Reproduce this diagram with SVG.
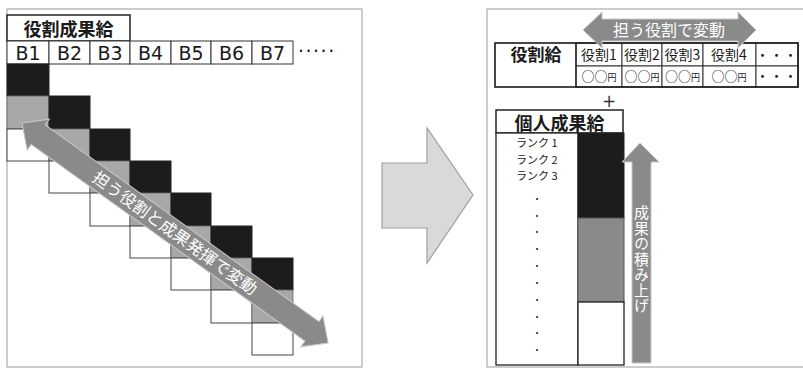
<svg xmlns="http://www.w3.org/2000/svg" width="803" height="368" viewBox="0 0 803 368">
<style>
.frame{fill:none;stroke:#9a9a9a;stroke-width:1}
.box{fill:#fff;stroke:#222;stroke-width:1.5}
.cell{fill:#fff;stroke:#333;stroke-width:1}
.blk{fill:#1c1c1c;stroke:#222;stroke-width:1}
.gry{fill:#a8a8a8;stroke:#666;stroke-width:0.8}
.wht{fill:#fff;stroke:#444;stroke-width:1}
.jp{font-family:"Noto Sans CJK JP","Noto Sans",sans-serif;fill:#1a1a1a}
.b{font-weight:bold}
.lat{font-family:"DejaVu Sans",sans-serif;fill:#1a1a1a;font-size:19px}
.arr{fill:#8a8a8a;stroke:#c8c8c8;stroke-width:1}
.wt{fill:#fff}
.mid{text-anchor:middle}
</style>

<!-- Left panel -->
<g id="left-panel">
  <rect class="frame" x="7" y="9" width="355" height="358"/>
  <g id="title-left">
    <rect class="box" x="7" y="15" width="123" height="26"/>
    <text class="jp b mid" x="68.5" y="36" font-size="18">役割成果給</text>
  </g>
  <g id="b-row">
    <rect class="cell" x="7" y="41" width="42" height="23"/>
    <rect class="cell" x="49" y="41" width="41" height="23"/>
    <rect class="cell" x="90" y="41" width="40" height="23"/>
    <rect class="cell" x="130" y="41" width="41" height="23"/>
    <rect class="cell" x="171" y="41" width="40" height="23"/>
    <rect class="cell" x="211" y="41" width="41" height="23"/>
    <rect class="cell" x="252" y="41" width="41" height="23"/>
    <text class="lat mid" x="28" y="60">B1</text>
    <text class="lat mid" x="69.5" y="60">B2</text>
    <text class="lat mid" x="110" y="60">B3</text>
    <text class="lat mid" x="150.5" y="60">B4</text>
    <text class="lat mid" x="191" y="60">B5</text>
    <text class="lat mid" x="231.5" y="60">B6</text>
    <text class="lat mid" x="272.5" y="60">B7</text>
    <text class="lat" x="298" y="58" font-size="14" letter-spacing="1.5">·····</text>
  </g>
  <g id="steps">
    <rect class="blk" x="7" y="64" width="42" height="32"/>
    <rect class="gry" x="7" y="96" width="42" height="33"/>
    <rect class="wht" x="7" y="129" width="42" height="32"/>
    <rect class="blk" x="49" y="96" width="41" height="33"/>
    <rect class="gry" x="49" y="129" width="41" height="32"/>
    <rect class="wht" x="49" y="161" width="41" height="32"/>
    <rect class="blk" x="90" y="129" width="40" height="32"/>
    <rect class="gry" x="90" y="161" width="40" height="32"/>
    <rect class="wht" x="90" y="193" width="40" height="33"/>
    <rect class="blk" x="130" y="161" width="41" height="32"/>
    <rect class="gry" x="130" y="193" width="41" height="33"/>
    <rect class="wht" x="130" y="226" width="41" height="32"/>
    <rect class="blk" x="171" y="193" width="40" height="33"/>
    <rect class="gry" x="171" y="226" width="40" height="32"/>
    <rect class="wht" x="171" y="258" width="40" height="32"/>
    <rect class="blk" x="211" y="226" width="41" height="32"/>
    <rect class="gry" x="211" y="258" width="41" height="32"/>
    <rect class="wht" x="211" y="290" width="41" height="33"/>
    <rect class="blk" x="252" y="258" width="41" height="32"/>
    <rect class="gry" x="252" y="290" width="41" height="33"/>
    <rect class="wht" x="252" y="323" width="41" height="32"/>
  </g>
</g>

<!-- Right panel -->
<g id="right-panel">
  <rect class="frame" x="487" y="9" width="330" height="358"/>
  <g id="role-table">
    <rect class="cell" x="576" y="43" width="46" height="23"/>
    <rect class="cell" x="622" y="43" width="40" height="23"/>
    <rect class="cell" x="662" y="43" width="41" height="23"/>
    <rect class="cell" x="703" y="43" width="53" height="23"/>
    <rect class="cell" x="756" y="43" width="42" height="23"/>
    <rect class="cell" x="576" y="66" width="46" height="21"/>
    <rect class="cell" x="622" y="66" width="40" height="21"/>
    <rect class="cell" x="662" y="66" width="41" height="21"/>
    <rect class="cell" x="703" y="66" width="53" height="21"/>
    <rect class="cell" x="756" y="66" width="42" height="21"/>
    <rect x="495" y="43" width="303" height="44" fill="none" stroke="#1a1a1a" stroke-width="1.6"/>
    <line x1="576" y1="43" x2="576" y2="87" stroke="#1a1a1a" stroke-width="1.3"/>
    <text class="jp b mid" x="536" y="61" font-size="17">役割給</text>
    <text class="jp mid" x="599" y="60" font-size="14">役割1</text>
    <text class="jp mid" x="642" y="60" font-size="14">役割2</text>
    <text class="jp mid" x="682.5" y="60" font-size="14">役割3</text>
    <text class="jp mid" x="729" y="60" font-size="14">役割4</text>
    <text class="jp mid" x="777" y="60" font-size="13" letter-spacing="1">・・・</text>
    <text class="jp mid" x="599" y="81" font-size="13" fill="#555">○○<tspan font-size="9">円</tspan></text>
    <text class="jp mid" x="642" y="81" font-size="13" fill="#555">○○<tspan font-size="9">円</tspan></text>
    <text class="jp mid" x="682.5" y="81" font-size="13" fill="#555">○○<tspan font-size="9">円</tspan></text>
    <text class="jp mid" x="729" y="81" font-size="13" fill="#555">○○<tspan font-size="9">円</tspan></text>
    <text class="jp mid" x="777" y="81" font-size="13" letter-spacing="1">・・・</text>
  </g>
  <g id="plus">
    <text class="mid" x="609" y="107" font-size="17" font-family="DejaVu Sans, sans-serif" fill="#333">+</text>
  </g>
  <g id="personal-table">
    <rect class="box" x="496" y="110" width="127" height="23"/>
    <text class="jp b mid" x="559.5" y="130" font-size="18">個人成果給</text>
    <rect x="496" y="133" width="82" height="232" fill="#fff" stroke="#222" stroke-width="1.3"/>
    <rect x="578" y="133" width="46" height="85" fill="#1c1c1c" stroke="#222" stroke-width="1"/>
    <rect x="578" y="218" width="46" height="84" fill="#8a8a8a" stroke="#555" stroke-width="1"/>
    <rect x="578" y="302" width="46" height="63" fill="#fff" stroke="#222" stroke-width="1.3"/>
    <text class="jp" x="516" y="147" font-size="11" fill="#333">ランク 1</text>
    <text class="jp" x="516" y="163.5" font-size="11" fill="#333">ランク 2</text>
    <text class="jp" x="516" y="180" font-size="11" fill="#333">ランク 3</text>
    <text class="jp mid" x="537" font-size="9" fill="#333"><tspan x="537" y="202">・</tspan><tspan x="537" y="219">・</tspan><tspan x="537" y="235">・</tspan><tspan x="537" y="252">・</tspan><tspan x="537" y="269">・</tspan><tspan x="537" y="286">・</tspan><tspan x="537" y="303">・</tspan><tspan x="537" y="320">・</tspan><tspan x="537" y="336">・</tspan><tspan x="537" y="353">・</tspan></text>
  </g>
</g>

<!-- Connectors / arrows -->
<g id="connectors">
  <g id="diag-arrow">
    <polygon class="arr" transform="translate(22,123) rotate(35.7)" points="0,0 20,-19 20,-12 357,-12 357,-19 377,0 357,19 357,12 20,12 20,19"/>
    <text class="jp wt mid" transform="translate(175,233) rotate(35.7)" y="6" font-size="16.5">担う役割と成果発揮で変動</text>
  </g>
  <g id="role-arrow">
    <polygon class="arr" points="583,30 602,12 602,19 738,19 738,12 756,30 738,48 738,41 602,41 602,48"/>
    <text class="jp wt mid" x="669" y="36" font-size="16">担う役割で変動</text>
  </g>
  <g id="stack-arrow">
    <polygon class="arr" fill="#7f7f7f" points="640,143 659,162 651,162 651,363 632,363 632,162 622,162"/>
    <text class="jp wt" x="641.5" y="205" font-size="15" writing-mode="tb" letter-spacing="0.5">成果の積み上げ</text>
  </g>
  <g id="big-arrow">
    <polygon points="382,163 427,163 427,128 473,195 427,263 427,228 382,228" fill="#d9d9d9" stroke="#a0a0a0" stroke-width="1.2"/>
  </g>
</g>
</svg>
